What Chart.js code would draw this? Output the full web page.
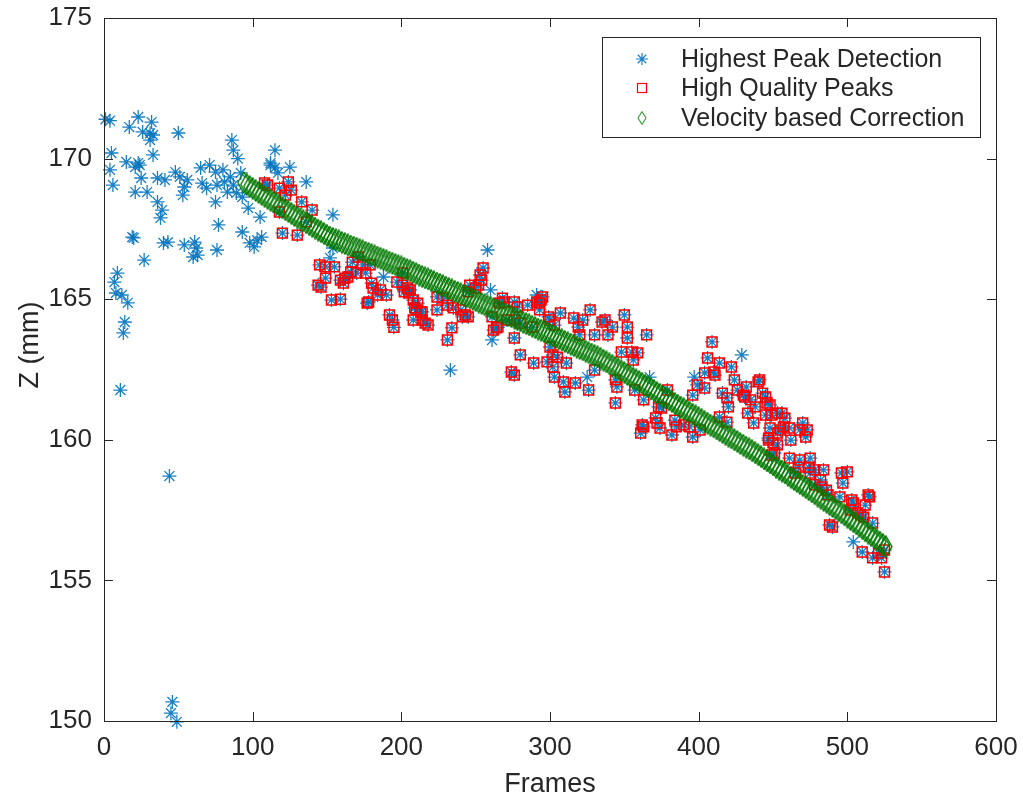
<!DOCTYPE html>
<html>
<head>
<meta charset="utf-8">
<title>Z vs Frames</title>
<script src="https://cdn.jsdelivr.net/npm/chart.js@4.4.0/dist/chart.umd.min.js"></script>
<style>
  html, body { margin: 0; padding: 0; background: #fff; }
  #wrap { width: 1023px; height: 799px; }
</style>
</head>
<body>
<div id="wrap"><canvas id="zChart" width="1023" height="799"></canvas></div>
<script>
// detections that did not pass the quality filter
const peakFrames = [1, 4, 17, 23, 32, 26, 31, 33, 31, 50, 86, 87, 90, 5, 15, 23, 21, 24, 33, 4,
  25, 6, 36, 41, 48, 51, 21, 29, 56, 54, 53, 65, 71, 66, 69, 75, 80, 76, 81, 85,
  87, 83, 75, 89, 93, 36, 39, 38, 77, 93, 97, 19, 20, 40, 43, 54, 61, 62, 60, 63,
  76, 27, 98, 101, 106, 103, 9, 7, 8, 12, 16, 14, 13, 11, 44, 46, 45, 49,
  105, 112, 115, 115, 117, 125, 136, 154, 154, 152, 188, 258, 260, 233, 261, 291, 325, 397, 429, 367,
  504, 112, 92];
const peakZ = [171.4, 171.35, 171.12, 171.48, 171.3, 170.95, 170.9, 170.84, 170.66, 170.91, 170.66, 170.3, 170.0, 170.2, 169.88, 169.84, 169.7, 169.77, 170.13, 169.6,
  169.31, 169.06, 169.31, 169.24, 169.52, 169.35, 168.81, 168.81, 169.24, 168.99, 168.7, 169.67, 169.77, 169.13, 168.95, 169.52, 169.6, 169.06, 169.17, 169.35,
  169.06, 168.81, 168.46, 168.78, 168.63, 168.46, 168.17, 167.89, 167.64, 167.39, 168.24, 167.21, 167.18, 167.0, 167.03, 166.93, 167.03, 166.82, 166.5, 166.57,
  166.75, 166.39, 167.0, 166.86, 167.21, 167.1, 165.93, 165.61, 165.22, 165.15, 164.87, 164.19, 163.8, 161.77, 158.71, 150.68, 150.28, 149.97,
  167.92, 169.77, 169.67, 170.3, 169.49, 169.7, 169.17, 168.0, 166.82, 166.47, 165.79, 166.75, 165.33, 162.48, 163.55, 165.15, 162.23, 162.23, 163.02, 162.23,
  156.37, 169.84, 169.49];

// high quality peaks (also part of the detections)
const hqFrames = [108, 110, 118, 124, 126, 122, 133, 140, 118, 120, 130, 136, 145, 149, 155, 144, 149, 146, 153, 159,
  167, 171, 174, 179, 159, 162, 161, 164, 166, 170, 176, 180, 181, 186, 178, 184, 190, 177, 192, 194,
  195, 197, 201, 204, 205, 208, 211, 210, 214, 216, 255, 253, 254, 252, 246, 250, 245, 201, 206, 202,
  209, 208, 213, 214, 218, 224, 228, 224, 231, 235, 234, 231, 240, 243, 245, 241, 261, 264, 265, 262,
  268, 269, 266, 276, 278, 285, 291, 293, 295, 294, 271, 276, 280, 288, 276, 280, 289, 274, 276, 293,
  299, 300, 303, 307, 300, 302, 305, 298, 302, 311, 309, 317, 310, 303, 326, 316, 322, 327, 319, 320,
  330, 335, 337, 342, 339, 350, 352, 352, 365, 348, 355, 356, 359, 330, 344, 345, 344, 357, 363, 373,
  375, 371, 372, 374, 362, 363, 361, 379, 384, 385, 382, 390, 394, 396, 401, 399, 396, 404, 409, 406,
  414, 422, 404, 410, 411, 416, 419, 420, 414, 419, 424, 426, 430, 432, 431, 435, 438, 441, 440, 443,
  446, 445, 449, 453, 448, 447, 450, 433, 437, 456, 458, 457, 455, 461, 453, 447, 462, 453, 451, 449,
  470, 468, 473, 472, 461, 468, 475, 467, 465, 474, 475, 478, 484, 482, 478, 483, 486, 487, 496, 500,
  497, 495, 503, 504, 502, 507, 512, 514, 515, 517, 511, 509, 488, 490, 510, 517, 523, 525, 525, 521,
  448, 445];
const hqZ = [169.13, 169.06, 168.95, 169.17, 168.88, 168.7, 168.46, 168.17, 168.1, 167.35, 167.28, 167.75, 166.22, 166.15, 166.15, 165.5, 165.75, 165.43, 164.97, 165.0,
  166.32, 166.5, 166.22, 166.22, 165.68, 165.75, 165.57, 165.79, 165.97, 165.93, 165.93, 165.57, 165.4, 165.33, 164.9, 165.15, 165.15, 164.86, 164.44, 164.26,
  164.0, 165.61, 165.5, 165.4, 165.22, 164.97, 164.86, 164.62, 164.55, 164.15, 166.11, 165.86, 165.68, 165.5, 165.5, 165.4, 165.26, 165.93, 165.33, 165.26,
  164.69, 164.26, 164.55, 164.26, 164.08, 165.08, 165.04, 164.62, 164.79, 164.69, 163.98, 163.55, 164.62, 164.44, 164.37, 164.37, 164.37, 163.98, 164.01, 163.9,
  165.04, 164.9, 164.86, 164.9, 164.72, 164.79, 164.9, 164.86, 165.08, 164.97, 164.26, 164.26, 164.15, 164.01, 163.62, 163.02, 162.73, 162.41, 162.3, 164.62,
  164.37, 164.26, 164.08, 164.51, 163.3, 163.02, 162.94, 162.77, 162.59, 162.73, 162.06, 162.02, 161.7, 162.23, 161.77, 164.33, 164.26, 164.62, 164.01, 163.73,
  163.73, 164.19, 164.26, 164.01, 163.73, 164.44, 164.01, 163.62, 163.73, 163.12, 163.12, 162.84, 163.09, 162.48, 162.13, 161.88, 161.31, 161.77, 161.42, 161.17,
  161.13, 160.78, 160.6, 160.42, 160.53, 160.46, 160.24, 161.77, 160.7, 160.46, 160.17, 160.53, 160.46, 160.1, 160.35, 161.95, 161.59, 161.84, 163.48, 162.91,
  162.73, 162.59, 162.38, 162.41, 162.3, 161.66, 161.49, 161.17, 160.81, 160.63, 162.13, 161.77, 161.59, 161.88, 161.52, 161.42, 161.17, 162.13, 162.06, 161.66,
  161.31, 160.88, 160.88, 160.95, 160.42, 159.99, 159.89, 160.95, 160.6, 160.95, 160.77, 160.46, 160.35, 160.42, 160.24, 160.06, 159.99, 159.82, 159.53, 159.46,
  160.6, 160.35, 160.35, 160.1, 159.35, 159.28, 159.35, 159.03, 158.82, 159.03, 158.82, 158.93, 158.93, 158.57, 158.4, 158.32, 158.21, 158.04, 158.82, 158.86,
  158.46, 157.97, 157.86, 157.75, 157.5, 157.4, 157.68, 158.04, 157.97, 157.04, 157.25, 157.33, 156.97, 156.9, 156.01, 155.8, 155.8, 155.3, 156.08, 155.97,
  161.24, 161.52];

// velocity based correction (read every second frame along the green band)
const corrFrames = [94, 96, 98, 100, 102, 104, 106, 108, 110, 112, 114, 116, 118, 120, 122, 124, 126, 128, 130, 132,
  134, 136, 138, 140, 142, 144, 146, 148, 150, 152, 154, 156, 158, 160, 162, 164, 166, 168, 170, 172,
  174, 176, 178, 180, 182, 184, 186, 188, 190, 192, 194, 196, 198, 200, 202, 204, 206, 208, 210, 212,
  214, 216, 218, 220, 222, 224, 226, 228, 230, 232, 234, 236, 238, 240, 242, 244, 246, 248, 250, 252,
  254, 256, 258, 260, 262, 264, 266, 268, 270, 272, 274, 276, 278, 280, 282, 284, 286, 288, 290, 292,
  294, 296, 298, 300, 302, 304, 306, 308, 310, 312, 314, 316, 318, 320, 322, 324, 326, 328, 330, 332,
  334, 336, 338, 340, 342, 344, 346, 348, 350, 352, 354, 356, 358, 360, 362, 364, 366, 368, 370, 372,
  374, 376, 378, 380, 382, 384, 386, 388, 390, 392, 394, 396, 398, 400, 402, 404, 406, 408, 410, 412,
  414, 416, 418, 420, 422, 424, 426, 428, 430, 432, 434, 436, 438, 440, 442, 444, 446, 448, 450, 452,
  454, 456, 458, 460, 462, 464, 466, 468, 470, 472, 474, 476, 478, 480, 482, 484, 486, 488, 490, 492,
  494, 496, 498, 500, 502, 504, 506, 508, 510, 512, 514, 516, 518, 520, 522, 524, 526];
const corrZ = [169.15, 169.08, 169.01, 168.94, 168.87, 168.80, 168.73, 168.66, 168.59, 168.52, 168.46, 168.39, 168.32, 168.25, 168.18, 168.12, 168.05, 167.98, 167.92, 167.85,
  167.79, 167.72, 167.66, 167.59, 167.53, 167.46, 167.40, 167.33, 167.27, 167.21, 167.16, 167.11, 167.07, 167.02, 166.98, 166.93, 166.89, 166.85, 166.81, 166.76,
  166.72, 166.67, 166.63, 166.58, 166.54, 166.50, 166.46, 166.41, 166.37, 166.32, 166.28, 166.23, 166.19, 166.15, 166.10, 166.05, 166.01, 165.96, 165.91, 165.86,
  165.81, 165.76, 165.72, 165.67, 165.62, 165.57, 165.53, 165.48, 165.43, 165.38, 165.33, 165.28, 165.24, 165.19, 165.14, 165.09, 165.05, 165.00, 164.95, 164.90,
  164.85, 164.80, 164.76, 164.71, 164.66, 164.61, 164.57, 164.52, 164.47, 164.42, 164.38, 164.33, 164.28, 164.23, 164.18, 164.13, 164.09, 164.04, 163.99, 163.94,
  163.90, 163.85, 163.80, 163.75, 163.70, 163.65, 163.60, 163.55, 163.50, 163.45, 163.40, 163.35, 163.30, 163.25, 163.20, 163.15, 163.10, 163.05, 163.00, 162.95,
  162.90, 162.83, 162.77, 162.70, 162.64, 162.58, 162.52, 162.45, 162.39, 162.32, 162.26, 162.19, 162.13, 162.07, 162.01, 161.94, 161.88, 161.81, 161.75, 161.68,
  161.62, 161.55, 161.49, 161.42, 161.36, 161.29, 161.23, 161.16, 161.10, 161.04, 160.98, 160.91, 160.85, 160.78, 160.72, 160.65, 160.59, 160.52, 160.46, 160.39,
  160.33, 160.26, 160.20, 160.13, 160.07, 160.00, 159.94, 159.87, 159.81, 159.74, 159.68, 159.61, 159.54, 159.47, 159.40, 159.32, 159.25, 159.18, 159.11, 159.03,
  158.96, 158.89, 158.82, 158.74, 158.67, 158.59, 158.52, 158.45, 158.38, 158.30, 158.23, 158.15, 158.08, 158.00, 157.93, 157.85, 157.78, 157.70, 157.63, 157.55,
  157.48, 157.40, 157.33, 157.25, 157.17, 157.09, 157.01, 156.93, 156.85, 156.76, 156.68, 156.60, 156.52, 156.44, 156.36, 156.28, 156.20];

const seriesNames = ['Highest Peak Detection', 'High Quality Peaks', 'Velocity based Correction'];
const xTicks = [0, 100, 200, 300, 400, 500, 600];
const yTicks = [150, 155, 160, 165, 170, 175];

const textColor = '#262626';
const blue = 'rgba(0, 114, 189, 0.9)';
const red = '#ff0000';
const green = '#007a00';
const fontFamily = "'Liberation Sans', Arial, Helvetica, sans-serif";

function toPoints(xs, ys) {
    return xs.map((x, i) => ({ x: x, y: ys[i] }));
}

// matlab style diamond: a bit taller than wide
function diamondMark(w, h, color, lw) {
    const c = document.createElement('canvas');
    c.width = w + 2;
    c.height = h + 2;
    const g = c.getContext('2d');
    g.strokeStyle = color;
    g.lineWidth = lw;
    g.beginPath();
    g.moveTo(c.width / 2, 1);
    g.lineTo(c.width - 1, c.height / 2);
    g.lineTo(c.width / 2, c.height - 1);
    g.lineTo(1, c.height / 2);
    g.closePath();
    g.stroke();
    return c;
}

const diamond = diamondMark(12, 21, green, 1.4);

// box, inward ticks, y label and legend like the matlab figure
const matlabAxes = {
    id: 'matlabAxes',
    afterDraw(chart) {
        const { ctx, chartArea: a, scales } = chart;
        ctx.save();
        ctx.strokeStyle = textColor;
        ctx.lineWidth = 1;
        ctx.strokeRect(Math.round(a.left) + 0.5, Math.round(a.top) + 0.5,
            Math.round(a.right - a.left), Math.round(a.bottom - a.top));

        const tl = 9;
        ctx.beginPath();
        xTicks.forEach(v => {
            const px = Math.round(scales.x.getPixelForValue(v)) + 0.5;
            ctx.moveTo(px, a.bottom); ctx.lineTo(px, a.bottom - tl);
            ctx.moveTo(px, a.top); ctx.lineTo(px, a.top + tl);
        });
        yTicks.forEach(v => {
            const py = Math.round(scales.y.getPixelForValue(v)) + 0.5;
            ctx.moveTo(a.left, py); ctx.lineTo(a.left + tl, py);
            ctx.moveTo(a.right, py); ctx.lineTo(a.right - tl, py);
        });
        ctx.stroke();

        // y axis label
        ctx.fillStyle = textColor;
        ctx.font = '27px ' + fontFamily;
        ctx.textAlign = 'center';
        ctx.textBaseline = 'middle';
        ctx.translate(31, 345);
        ctx.rotate(-Math.PI / 2);
        ctx.fillText('Z (mm)', 0, 0);
        ctx.setTransform(1, 0, 0, 1, 0, 0);

        // legend
        const box = { x: 602, y: 37, w: 378, h: 100 };
        ctx.fillStyle = '#fff';
        ctx.fillRect(box.x, box.y, box.w, box.h);
        ctx.strokeRect(box.x + 0.5, box.y + 0.5, box.w, box.h);
        const rows = [59, 88, 118];
        const mx = 642;
        ctx.font = '25px ' + fontFamily;
        ctx.textAlign = 'left';
        rows.forEach((ry, i) => {
            ctx.fillStyle = textColor;
            ctx.fillText(chart.data.datasets[i].label, 681, ry + 1);
            if (i === 0) {
                ctx.strokeStyle = blue;
                ctx.lineWidth = 1.2;
                ctx.beginPath();
                const r = 6;
                for (let k = 0; k < 4; k++) {
                    const ang = k * Math.PI / 4;
                    ctx.moveTo(mx - r * Math.cos(ang), ry - r * Math.sin(ang));
                    ctx.lineTo(mx + r * Math.cos(ang), ry + r * Math.sin(ang));
                }
                ctx.stroke();
            } else if (i === 1) {
                ctx.strokeStyle = red;
                ctx.lineWidth = 1.2;
                ctx.strokeRect(mx - 4.5, ry - 4.5, 9, 9);
            } else {
                ctx.drawImage(diamondMark(8, 13, green, 1), mx - 5, ry - 7.5);
            }
        });
        ctx.restore();
    }
};

const ctx = document.getElementById('zChart').getContext('2d');

new Chart(ctx, {
    type: 'scatter',
    data: {
        datasets: [
            {
                label: seriesNames[0],
                data: toPoints(peakFrames.concat(hqFrames), peakZ.concat(hqZ)),
                pointStyle: 'star',
                pointRadius: 7,
                borderColor: blue,
                backgroundColor: blue,
                pointBorderWidth: 1.3,
                clip: false,
                order: 3
            },
            {
                label: seriesNames[1],
                data: toPoints(hqFrames, hqZ),
                pointStyle: 'rect',
                pointRadius: 7,
                borderColor: red,
                backgroundColor: 'rgba(0,0,0,0)',
                pointBorderWidth: 1.5,
                order: 2
            },
            {
                label: seriesNames[2],
                data: toPoints(corrFrames, corrZ),
                pointStyle: diamond,
                pointRadius: 10,
                borderColor: green,
                backgroundColor: 'rgba(0,0,0,0)',
                order: 1
            }
        ]
    },
    options: {
        responsive: false,
        animation: false,
        devicePixelRatio: 1,
        layout: {
            padding: { top: 18, right: 27, left: 0, bottom: 0 }
        },
        plugins: {
            legend: { display: false },
            tooltip: { enabled: false }
        },
        scales: {
            x: {
                type: 'linear',
                min: 0,
                max: 600,
                afterFit: s => {
                    s.height = 78;
                    s.paddingLeft = 0;
                    s.paddingRight = 0;
                },
                afterBuildTicks: s => { s.ticks = xTicks.map(v => ({ value: v })); },
                ticks: {
                    color: textColor,
                    padding: 11,
                    maxRotation: 0,
                    font: { family: fontFamily, size: 26 }
                },
                grid: { display: false, drawTicks: false },
                border: { display: false },
                title: {
                    display: true,
                    text: 'Frames',
                    color: textColor,
                    padding: { top: 0, bottom: -2 },
                    font: { family: fontFamily, size: 27 }
                }
            },
            y: {
                type: 'linear',
                min: 150,
                max: 175,
                afterFit: s => {
                    s.width = 104;
                    s.paddingTop = 0;
                    s.paddingBottom = 0;
                },
                afterBuildTicks: s => { s.ticks = yTicks.map(v => ({ value: v })); },
                ticks: {
                    color: textColor,
                    padding: 12,
                    font: { family: fontFamily, size: 26 }
                },
                grid: { display: false, drawTicks: false },
                border: { display: false }
            }
        }
    },
    plugins: [matlabAxes]
});
</script>
</body>
</html>
